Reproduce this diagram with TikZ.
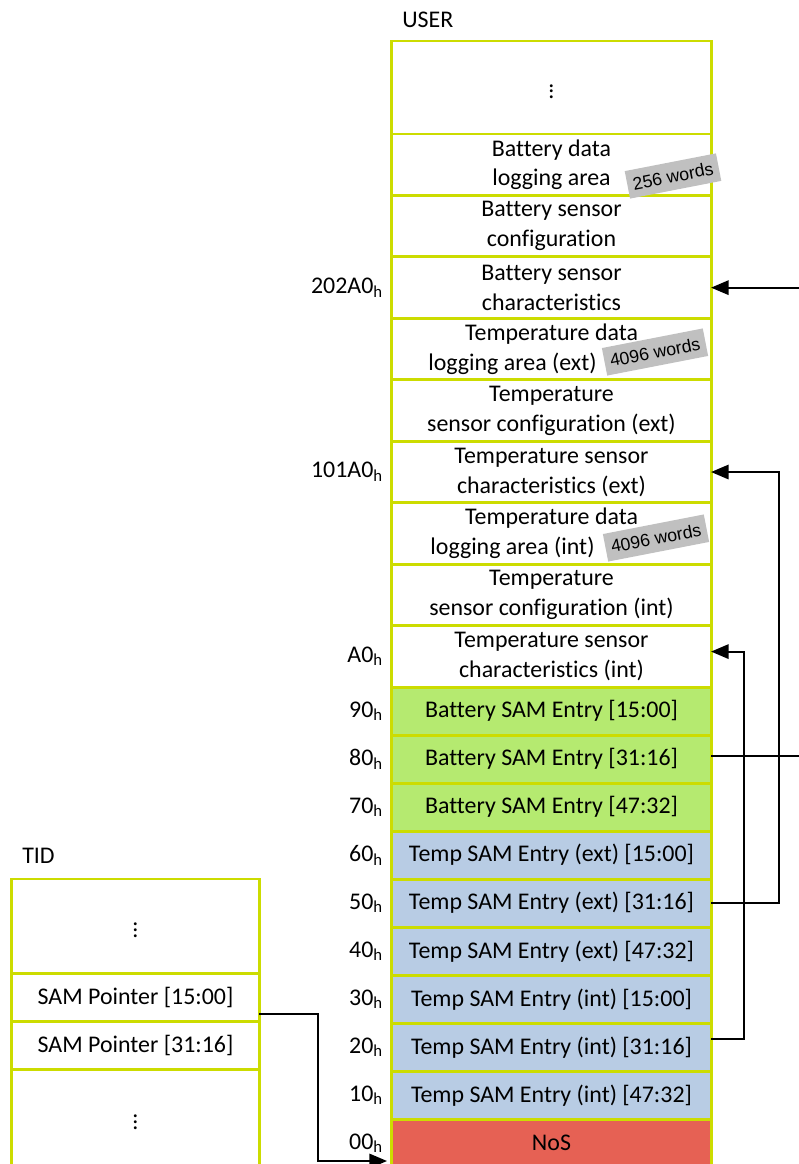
\documentclass[tikz,border=0pt]{standalone}
\usepackage{fontspec}
\setmainfont[Ligatures=NoCommon]{Carlito}
\newfontfamily\badgefont{Liberation Sans}
\usetikzlibrary{arrows.meta,positioning}
\definecolor{rim}{RGB}{204,220,0}
\definecolor{batgreen}{RGB}{181,234,112}
\definecolor{tempblue}{RGB}{184,204,228}
\definecolor{nosred}{RGB}{230,97,84}
\definecolor{tag}{RGB}{192,192,192}

\begin{document}
\begin{tikzpicture}[x=0.025cm,y=-0.025cm, font=\fontsize{17}{21.3}\selectfont,
  cell/.style={draw=rim, line width=2.1pt, outer sep=0pt, inner sep=0pt,
    align=center, minimum width=7.975cm, minimum height=1.536cm},
  sam/.style={cell, minimum height=1.2cm},
  tidcell/.style={cell, minimum width=6.175cm, minimum height=1.2cm},
  addr/.style={inner sep=0pt, left=0.22cm of #1.west},
  wtag/.style={fill=tag, rotate=11, inner xsep=0.14cm, minimum height=0.7cm,
    font=\badgefont\fontsize{12.6}{14}\selectfont},
  arr/.style={line width=1.4pt, -{Triangle[length=4.4mm, width=3.6mm]}}]
  \useasboundingbox (0,0) rectangle (798,1164);
  % USER bank
  \node[anchor=west, inner sep=0pt] (userlbl) at (402,20) {USER};
  \node[cell, minimum height=2.325cm] (utop) at (551.5,87.5) {$\vdots$};
  \node[cell, below=0pt of utop] (blog) {Battery data\\logging area};
  \node[cell, below=0pt of blog] (bcfg) {Battery sensor\\configuration};
  \node[cell, below=0pt of bcfg] (bsc) {Battery sensor\\characteristics};
  \node[cell, below=0pt of bsc] (tloge) {Temperature data\\logging area (ext)\hspace*{1.95cm}};
  \node[cell, below=0pt of tloge] (tcfge) {Temperature\\sensor configuration (ext)};
  \node[cell, below=0pt of tcfge] (tsce) {Temperature sensor\\characteristics (ext)};
  \node[cell, below=0pt of tsce] (tlogi) {Temperature data\\logging area (int)\hspace*{1.95cm}};
  \node[cell, below=0pt of tlogi] (tcfgi) {Temperature\\sensor configuration (int)};
  \node[cell, below=0pt of tcfgi] (tsci) {Temperature sensor\\characteristics (int)};
  \node[sam, fill=batgreen, below=0pt of tsci] (bs1) {Battery SAM Entry [15:00]};
  \node[sam, fill=batgreen, below=0pt of bs1] (bs2) {Battery SAM Entry [31:16]};
  \node[sam, fill=batgreen, below=0pt of bs2] (bs3) {Battery SAM Entry [47:32]};
  \node[sam, fill=tempblue, below=0pt of bs3] (te1) {Temp SAM Entry (ext) [15:00]};
  \node[sam, fill=tempblue, below=0pt of te1] (te2) {Temp SAM Entry (ext) [31:16]};
  \node[sam, fill=tempblue, below=0pt of te2] (te3) {Temp SAM Entry (ext) [47:32]};
  \node[sam, fill=tempblue, below=0pt of te3] (ti1) {Temp SAM Entry (int) [15:00]};
  \node[sam, fill=tempblue, below=0pt of ti1] (ti2) {Temp SAM Entry (int) [31:16]};
  \node[sam, fill=tempblue, below=0pt of ti2] (ti3) {Temp SAM Entry (int) [47:32]};
  \node[sam, fill=nosred, below=0pt of ti3] (nos) {NoS};
  % word counts
  \node[wtag] (tagbat) at (673,176) {256 words};
  \node[wtag] (tagext) at (655,352) {4096 words};
  \node[wtag] (tagint) at (656,538) {4096 words};
  % addresses
  \node[addr=bsc] (a202A0) {202A0\textsubscript{h}};
  \node[addr=tsce] (a101A0) {101A0\textsubscript{h}};
  \node[addr=tsci] (aA0) {A0\textsubscript{h}};
  \foreach \row/\val in {bs1/90, bs2/80, bs3/70, te1/60, te2/50, te3/40,
      ti1/30, ti2/20, ti3/10, nos/00}
    \node[addr=\row] (a\val) {\val\textsubscript{h}};
  % TID bank
  \node[anchor=west, inner sep=0pt] (tidlbl) at (22,856) {TID};
  \node[tidcell, minimum height=2.35cm] (ttop) at (135.5,926) {$\vdots$};
  \node[tidcell, below=0pt of ttop] (tp1) {SAM Pointer [15:00]};
  \node[tidcell, below=0pt of tp1] (tp2) {SAM Pointer [31:16]};
  \node[tidcell, minimum height=2.45cm, below=0pt of tp2] (tbot) {$\vdots$};
  % pointers
  \coordinate (tip00) at (387,1161);
  \draw[arr] ([yshift=-0.42cm]tp1.east) -- ++(59,0) |- (tip00);
  \draw[arr] ([yshift=0.08cm]bs2.east) -- ++(92,0) |- (bsc.east);
  \draw[arr] (te2.east) -- ++(68,0) |- (tsce.east);
  \draw[arr] ([yshift=0.2cm]ti2.east) -- ++(33,0) |- ([yshift=0.12cm]tsci.east);
\end{tikzpicture}
\end{document}
